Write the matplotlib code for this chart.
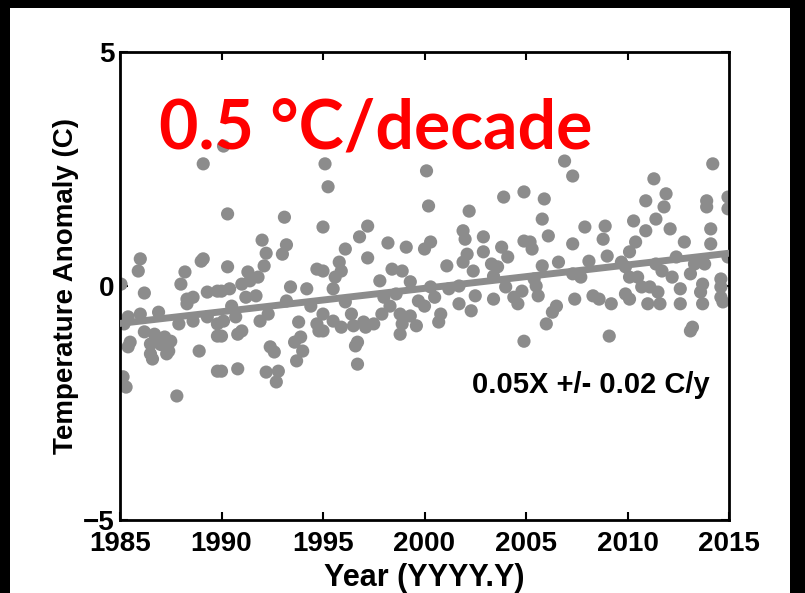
import numpy as np
import matplotlib.pyplot as plt
from matplotlib.patches import Rectangle

# monthly anomalies (year, anomaly in C)
years = [
    1989.1, 1985.05, 1986.0, 1985.9, 1986.2, 1989.1, 1989.0, 1988.2, 1988.0, 1988.6,
    1988.3, 1989.3, 1989.8, 1985.4, 1985.2, 1986.0, 1986.9, 1987.9, 1988.6, 1989.3,
    1989.8, 1986.2, 1986.7, 1987.2, 1987.5, 1985.5, 1985.4, 1986.5, 1986.5, 1986.6,
    1987.4, 1987.3, 1988.9, 1989.8, 1989.8, 1985.15, 1985.3, 1987.8, 1988.3, 1987.0,
    1990.1, 1990.3, 1993.1, 1992.0, 1993.2, 1993.0, 1992.2, 1992.1, 1990.3, 1991.3,
    1991.8, 1991.0, 1991.4, 1990.4, 1990.0, 1993.4, 1994.2, 1994.7, 1991.2, 1991.7,
    1990.5, 1993.2, 1994.4, 1992.3, 1991.9, 1990.1, 1990.7, 1993.8, 1994.7, 1994.8,
    1990.0, 1990.8, 1991.0, 1993.9, 1993.6, 1994.0, 1992.4, 1992.6, 1993.7, 1990.0,
    1990.8, 1992.2, 1992.8, 1992.7,
    1995.1, 1995.25, 1995.0, 1997.2, 1996.8, 1996.1, 1997.2, 1998.2, 1999.1, 2000.0,
    1995.8, 1995.0, 1995.6, 1995.9, 1998.4, 1998.9, 1997.8, 1999.3, 1995.5, 1998.6,
    1996.1, 1998.0, 1998.3, 1999.7, 1995.0, 1996.4, 1997.9, 1998.8, 1999.3, 1995.5,
    1995.9, 1996.5, 1997.0, 1997.5, 1998.9, 1999.6, 1995.0, 1997.1, 1998.8, 1996.7,
    1996.6, 1996.7,
    2000.1, 2000.2, 2002.2, 2003.9, 2004.9, 2001.9, 2002.0, 2002.9, 2000.3, 2003.8,
    2004.1, 2004.9, 2002.9, 2002.1, 2001.9, 2001.1, 2002.4, 2003.3, 2003.6, 2003.4,
    2000.3, 2001.2, 2001.7, 2004.0, 2004.8, 2002.5, 2003.4, 2004.4, 2004.6, 2000.5,
    2001.7, 2000.0, 2002.3, 2000.8, 2000.7, 2004.9,
    2006.9, 2007.3, 2005.9, 2005.8, 2006.1, 2007.9, 2008.9, 2008.8, 2005.2, 2005.3,
    2007.3, 2009.0, 2005.8, 2006.6, 2008.1, 2009.7, 2007.3, 2007.7, 2005.4, 2005.5,
    2005.6, 2008.3, 2008.6, 2007.4, 2009.2, 2006.5, 2006.3, 2006.0, 2009.1,
    2014.2, 2011.3, 2011.9, 2010.9, 2011.8, 2013.9, 2013.9, 2014.95, 2014.95, 2010.3,
    2011.4, 2010.9, 2012.1, 2014.1, 2010.4, 2012.8, 2014.1, 2010.1, 2014.95, 2009.9,
    2011.4, 2012.4, 2013.3, 2013.8, 2011.7, 2013.1, 2010.1, 2010.5, 2014.6, 2012.2,
    2013.7, 2010.7, 2011.1, 2012.6, 2014.6, 2009.9, 2011.5, 2013.6, 2014.6, 2010.1,
    2011.0, 2011.6, 2012.6, 2013.7, 2014.7, 2013.1, 2013.2,
]
anom = [
    2.61, 0.04, 0.58, 0.32, -0.15, 0.58, 0.53, 0.30, 0.04, -0.24,
    -0.38, -0.13, -0.11, -0.66, -0.81, -0.60, -0.56, -0.81, -0.75, -0.66,
    -0.81, -0.98, -1.03, -1.09, -1.18, -1.20, -1.30, -1.24, -1.45, -1.56,
    -1.39, -1.45, -1.39, -1.07, -1.82, -1.94, -2.16, -2.35, -0.28, -1.25,
    2.99, 1.54, 1.47, 0.98, 0.88, 0.68, 0.70, 0.43, 0.41, 0.30,
    0.19, 0.04, 0.11, -0.06, -0.11, -0.02, -0.06, 0.36, -0.24, -0.21,
    -0.43, -0.32, -0.43, -0.60, -0.75, -0.75, -0.66, -0.77, -0.81, -0.96,
    -1.07, -1.03, -0.96, -1.09, -1.20, -1.39, -1.30, -1.41, -1.60, -1.82,
    -1.77, -1.84, -1.82, -2.05,
    2.61, 2.12, 1.26, 1.28, 1.05, 0.79, 0.60, 0.92, 0.83, 0.79,
    0.51, 0.32, 0.19, 0.32, 0.36, 0.32, 0.11, 0.09, -0.06, -0.17,
    -0.34, -0.24, -0.43, -0.32, -0.60, -0.60, -0.60, -0.60, -0.64, -0.75,
    -0.88, -0.85, -0.77, -0.81, -0.81, -0.85, -0.96, -0.88, -1.03, -1.20,
    -1.28, -1.67,
    2.46, 1.71, 1.60, 1.90, 2.01, 1.18, 1.00, 1.05, 0.94, 0.83,
    0.62, 0.96, 0.73, 0.68, 0.51, 0.43, 0.32, 0.47, 0.41, 0.21,
    -0.02, -0.06, 0.00, -0.02, -0.11, -0.21, -0.28, -0.24, -0.38, -0.24,
    -0.38, -0.43, -0.53, -0.60, -0.77, -1.18,
    2.67, 2.35, 1.86, 1.43, 1.07, 1.26, 1.28, 1.00, 0.94, 0.79,
    0.90, 0.64, 0.43, 0.51, 0.53, 0.51, 0.26, 0.19, 0.15, 0.00,
    -0.21, -0.21, -0.28, -0.28, -0.38, -0.43, -0.56, -0.81, -1.07,
    2.61, 2.29, 1.97, 1.82, 1.69, 1.82, 1.69, 1.90, 1.65, 1.39,
    1.43, 1.18, 1.22, 1.22, 0.94, 0.94, 0.90, 0.73, 0.62, 0.41,
    0.47, 0.62, 0.47, 0.47, 0.32, 0.26, 0.19, 0.19, 0.15, 0.19,
    0.04, -0.02, -0.02, -0.06, -0.02, -0.17, -0.13, -0.13, -0.24, -0.28,
    -0.38, -0.38, -0.38, -0.38, -0.34, -0.96, -0.88,
]
trend_years = [1985, 2015]
trend_vals = [-0.80, 0.70]

xticks = [1985, 1990, 1995, 2000, 2005, 2010, 2015]
yticks = [-5, 0, 5]

grey = '#8c8c8c'
lab_font = ['Liberation Sans Narrow', 'Liberation Sans', 'DejaVu Sans']

fig = plt.figure(figsize=(8.05, 5.93), dpi=100, facecolor='black')
# white page inside the black frame
fig.patches.append(Rectangle((10/805, 0), 780/805, 585/593, transform=fig.transFigure,
                             facecolor='white', edgecolor='none', zorder=-10))

ax = fig.add_axes([120/805, 1-520/593, 609/805, 468/593])
ax.scatter(years, anom, s=90, color=grey, edgecolors='none', zorder=2)
ax.plot(trend_years, trend_vals, color=grey, lw=5, zorder=3)

ax.set_xlim(1985, 2015)
ax.set_ylim(-5, 5)
ax.set_xticks(xticks)
ax.set_yticks(yticks)
ax.tick_params(axis='x', direction='in', top=True, length=6, width=1.5, pad=8)
ax.tick_params(axis='y', direction='in', right=True, length=6, width=1.5, pad=4)
for lab in ax.get_xticklabels() + ax.get_yticklabels():
    lab.set_family(lab_font)
    lab.set_fontsize(20)
    lab.set_fontweight('bold')
for s in ax.spines.values():
    s.set_linewidth(2)

ax.set_xlabel('Year (YYYY.Y)', family=lab_font, fontsize=22, fontweight='bold', labelpad=4)
ax.set_ylabel('Temperature Anomaly (C)', family=lab_font, fontsize=20, fontweight='bold', labelpad=3)

ax.text(0.42, 0.835, '0.5 °C/decade', transform=ax.transAxes, color='red',
        fontsize=49, fontweight='bold', family=['Lato', 'DejaVu Sans'], ha='center', va='center')
ax.text(0.969, 0.288, '0.05X +/- 0.02 C/y', transform=ax.transAxes, color='black',
        fontsize=21, fontweight='bold', family=lab_font, ha='right', va='center')

fig.savefig('out.png', dpi=100, facecolor='black')
